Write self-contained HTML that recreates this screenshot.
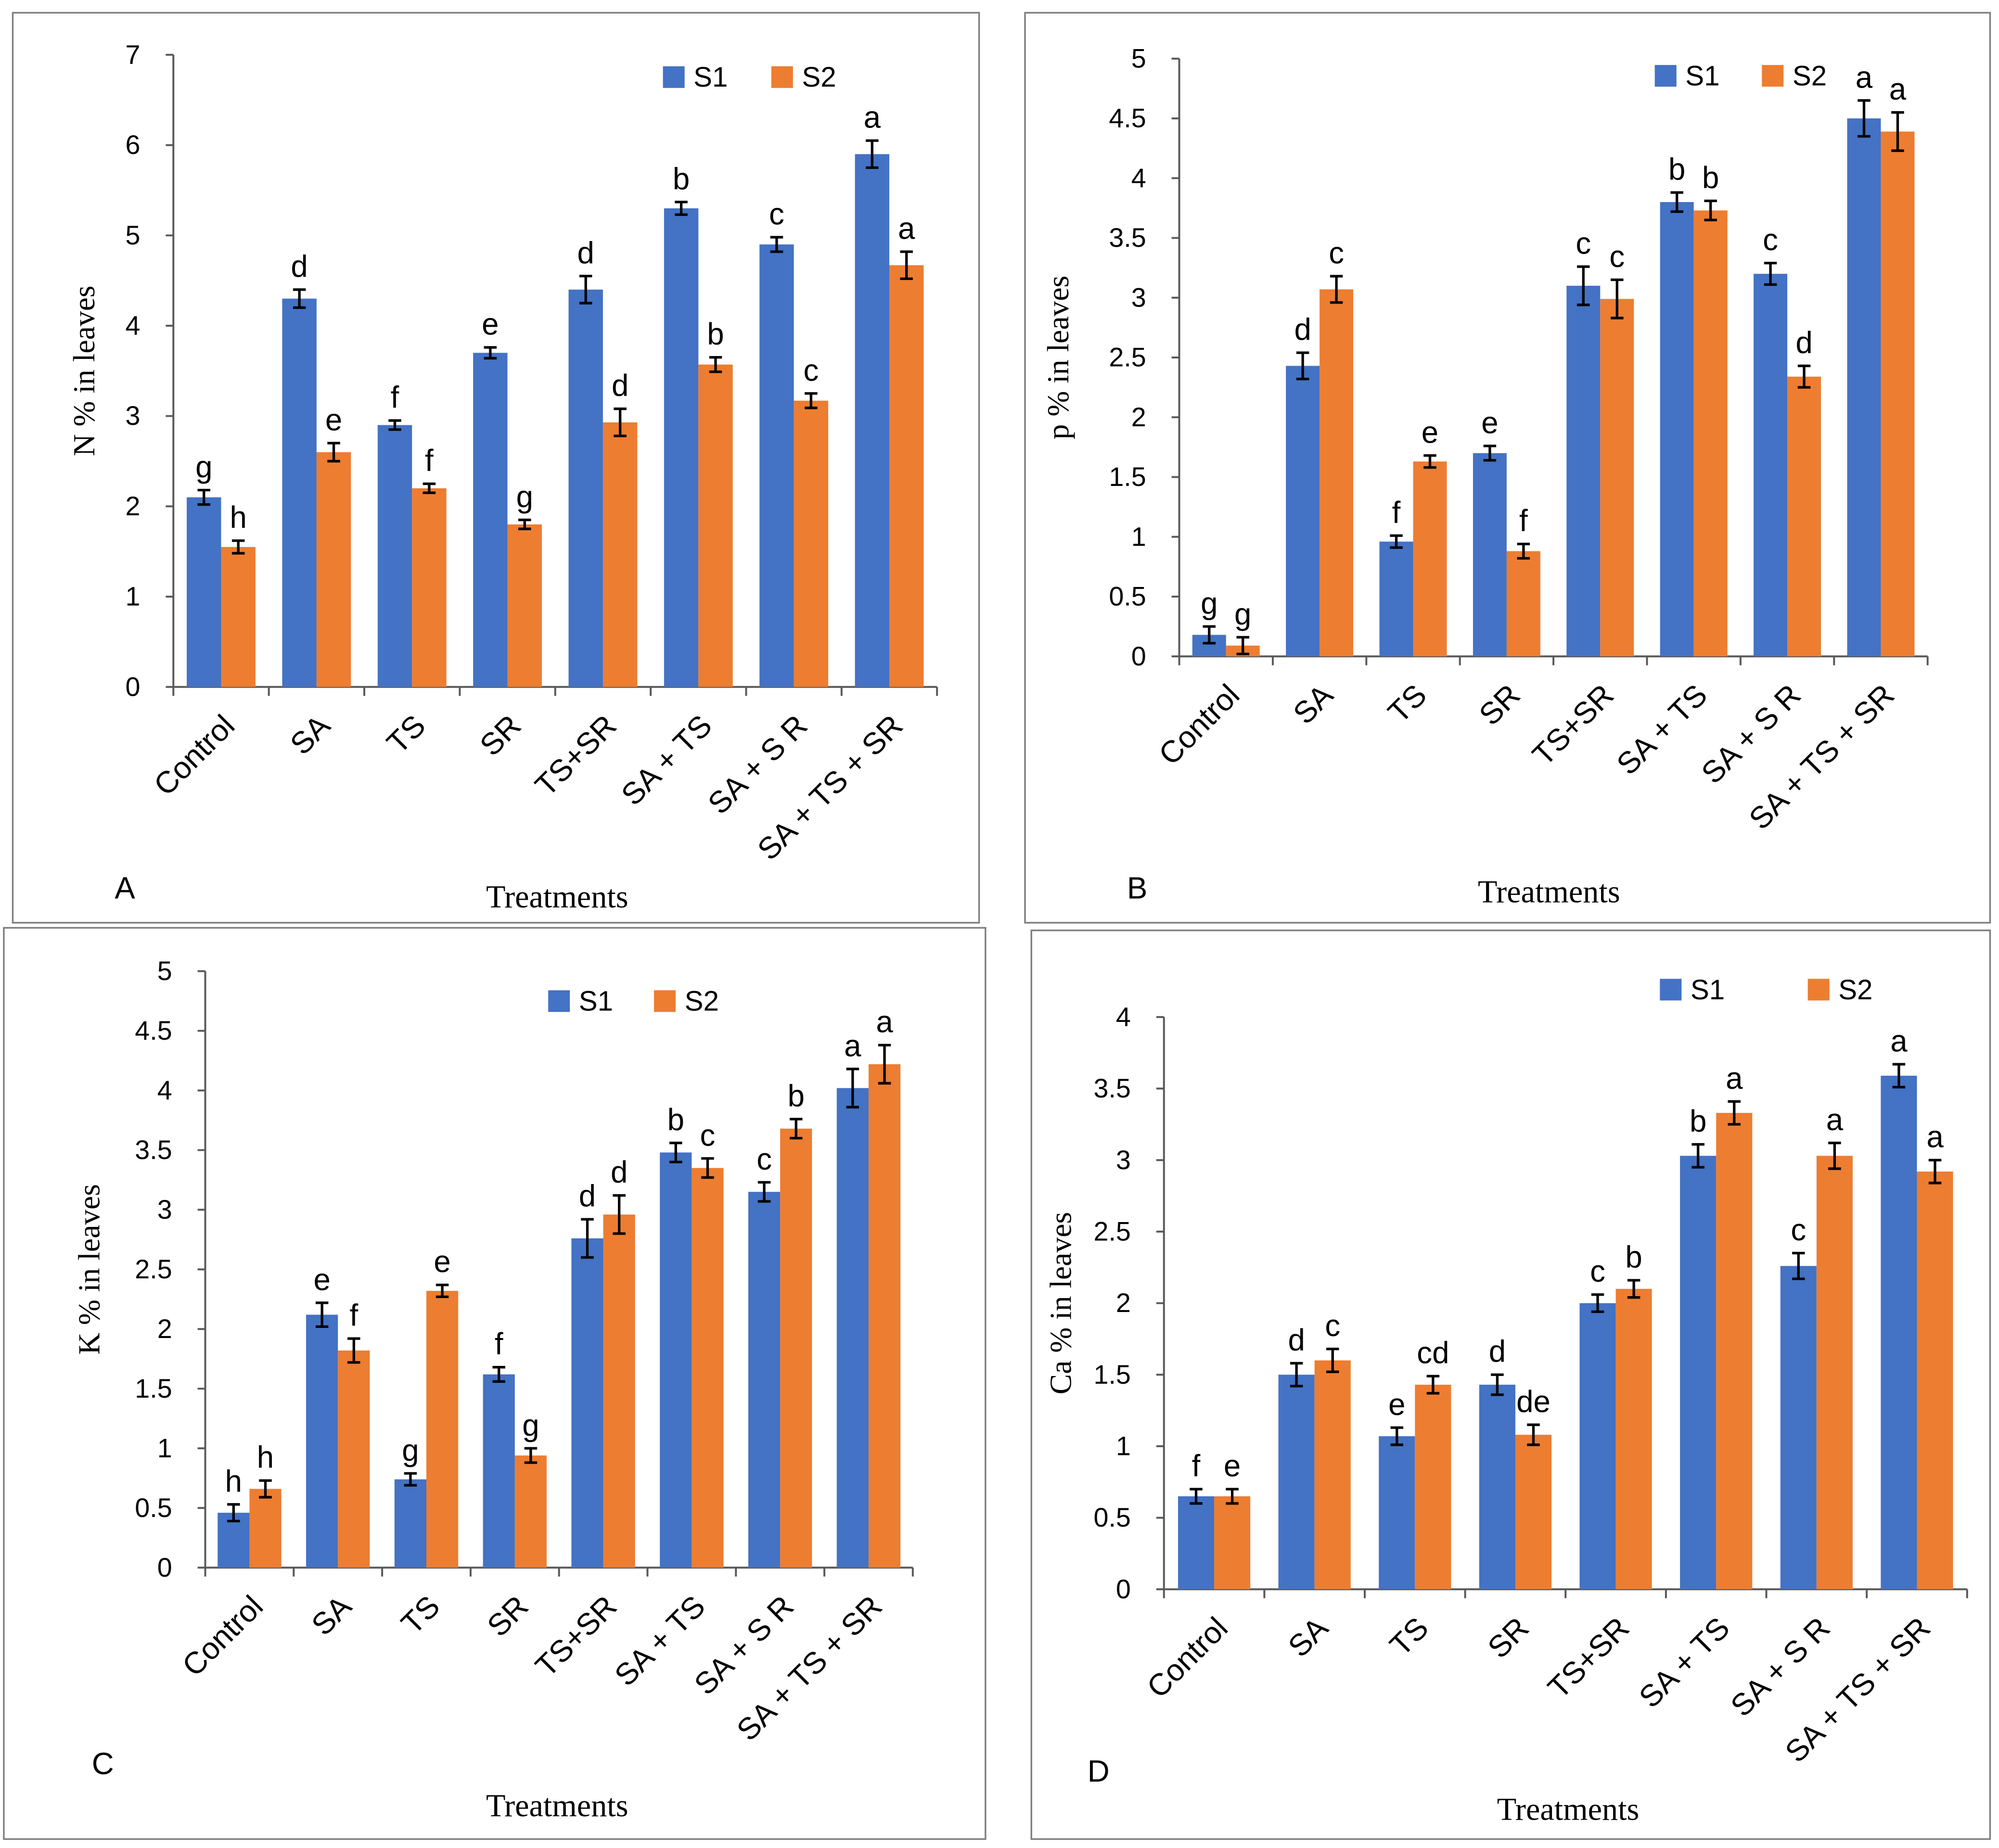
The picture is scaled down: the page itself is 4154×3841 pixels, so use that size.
<!DOCTYPE html>
<html><head><meta charset="utf-8"><style>
html,body{margin:0;padding:0;background:#fff;}
svg{display:block;}
text{font-family:"Liberation Sans",sans-serif;fill:#000;}
.serif{font-family:"Liberation Serif",serif;}
</style></head><body>
<svg id="chart" width="4154" height="3841" viewBox="0 0 1568 1450" preserveAspectRatio="none" xmlns="http://www.w3.org/2000/svg"></svg>
<script>
const categories = ["Control","SA","TS","SR","TS+SR","SA + TS","SA + S R","SA + TS + SR"];
const nS1 = [2.1,4.3,2.9,3.7,4.4,5.3,4.9,5.9];
const nS2 = [1.55,2.6,2.2,1.8,2.93,3.57,3.17,4.67];
const nE1 = [0.08,0.1,0.05,0.06,0.15,0.07,0.08,0.15];
const nE2 = [0.07,0.1,0.05,0.05,0.15,0.08,0.08,0.15];
const nL1 = ["g","d","f","e","d","b","c","a"];
const nL2 = ["h","e","f","g","d","b","c","a"];
const nTicks = ["0","1","2","3","4","5","6","7"];
const pS1 = [0.18,2.43,0.96,1.7,3.1,3.8,3.2,4.5];
const pS2 = [0.09,3.07,1.63,0.88,2.99,3.73,2.34,4.39];
const pE1 = [0.07,0.11,0.05,0.06,0.16,0.08,0.09,0.15];
const pE2 = [0.07,0.11,0.05,0.06,0.16,0.08,0.09,0.16];
const pL1 = ["g","d","f","e","c","b","c","a"];
const pL2 = ["g","c","e","f","c","b","d","a"];
const pTicks = ["0","0.5","1","1.5","2","2.5","3","3.5","4","4.5","5"];
const kS1 = [0.46,2.12,0.74,1.62,2.76,3.48,3.15,4.02];
const kS2 = [0.66,1.82,2.32,0.94,2.96,3.35,3.68,4.22];
const kE1 = [0.07,0.1,0.05,0.06,0.16,0.08,0.08,0.16];
const kE2 = [0.07,0.1,0.05,0.06,0.16,0.08,0.08,0.16];
const kL1 = ["h","e","g","f","d","b","c","a"];
const kL2 = ["h","f","e","g","d","c","b","a"];
const kTicks = ["0","0.5","1","1.5","2","2.5","3","3.5","4","4.5","5"];
const cS1 = [0.65,1.5,1.07,1.43,2.0,3.03,2.26,3.59];
const cS2 = [0.65,1.6,1.43,1.08,2.1,3.33,3.03,2.92];
const cE1 = [0.05,0.08,0.06,0.07,0.06,0.08,0.09,0.08];
const cE2 = [0.05,0.08,0.06,0.07,0.06,0.08,0.09,0.08];
const cL1 = ["f","d","e","d","c","b","c","a"];
const cL2 = ["e","c","cd","de","b","a","a","a"];
const cTicks = ["0","0.5","1","1.5","2","2.5","3","3.5","4"];

const NS="http://www.w3.org/2000/svg";
const svg=document.getElementById('chart');
function mk(tag,attrs,parent,txt){const e=document.createElementNS(NS,tag);for(const k in attrs)e.setAttribute(k,attrs[k]);if(txt!==undefined)e.textContent=txt;(parent||svg).appendChild(e);return e;}

function panel(cfg){
  const g=mk('g',{});
  
  
  const b=mk('rect',{x:cfg.box[0],y:cfg.box[1],width:cfg.box[2]-cfg.box[0],height:cfg.box[3]-cfg.box[1],fill:'none',stroke:'#7f7f7f','stroke-width':1.3},g);
  
  
  const ymax=parseFloat(cfg.ticks[cfg.ticks.length-1]);
  const y=v=>cfg.y0-(v/ymax)*(cfg.y0-cfg.yTop);
  const n=categories.length, cw=(cfg.x1-cfg.x0)/n, bw=cw*0.36;
  const cx=i=>cfg.x0+cw*(i+0.5);
  const ax=mk('line',{x1:cfg.x0,y1:cfg.yTop,x2:cfg.x0,y2:cfg.y0,stroke:'#595959','stroke-width':1.5},g);
  
  const xx=mk('line',{x1:cfg.x0,y1:cfg.y0,x2:cfg.x1,y2:cfg.y0,stroke:'#595959','stroke-width':1.5},g);
  
  cfg.ticks.forEach(t=>{const v=parseFloat(t);
    mk('line',{x1:cfg.x0-6,y1:y(v),x2:cfg.x0,y2:y(v),stroke:'#595959','stroke-width':1.5},g);
    const tl=mk('text',{x:cfg.x0-26,y:y(v)+7,'text-anchor':'end','font-size':21},g,t);
    
  });
  for(let i=0;i<=n;i++) mk('line',{x1:cfg.x0+cw*i,y1:cfg.y0,x2:cfg.x0+cw*i,y2:cfg.y0+7,stroke:'#595959','stroke-width':1.5},g);
  const series=[[cfg.s1,cfg.e1,cfg.l1,'#4472C4',-1],[cfg.s2,cfg.e2,cfg.l2,'#ED7D31',0]];
  categories.forEach((c,i)=>{
    series.forEach((s,si)=>{
      const v=s[0][i],e=s[1][i],x=cx(i)+s[4]*bw;
      const r=mk('rect',{x:x,y:y(v),width:bw,height:cfg.y0-y(v),fill:s[3]},g);
      
      
      const mx=x+bw/2;
      mk('line',{x1:mx,y1:y(v+e),x2:mx,y2:y(v-e),stroke:'#000','stroke-width':2},g);
      mk('line',{x1:mx-5,y1:y(v+e),x2:mx+5,y2:y(v+e),stroke:'#000','stroke-width':2},g);
      mk('line',{x1:mx-5,y1:y(v-e),x2:mx+5,y2:y(v-e),stroke:'#000','stroke-width':2},g);
      const lt=mk('text',{x:mx,y:y(v+e)-10,'text-anchor':'middle','font-size':24},g,s[2][i]);
      
      
    });
    const xl=mk('text',{x:0,y:0,'text-anchor':'end','font-size':24,transform:`translate(${cx(i)+12},${cfg.y0+32}) rotate(-45)`},g,c);
    
    
  });
  const yt=mk('text',{x:0,y:0,'text-anchor':'middle','font-size':24,class:'serif',transform:`translate(${cfg.ytX},${(cfg.y0+cfg.yTop)/2}) rotate(-90)`},g,cfg.ytitle);
  
  const xt=mk('text',{x:cfg.xt[0],y:cfg.xt[1],'text-anchor':'middle','font-size':25,class:'serif'},g,'Treatments');
  
  const pl=mk('text',{x:cfg.lab[0],y:cfg.lab[1],'font-size':24},g,cfg.id);
  
  [['S1','#4472C4',cfg.leg[0]],['S2','#ED7D31',cfg.leg[1]]].forEach(l=>{
    const r=mk('rect',{x:l[2],y:cfg.legY-8,width:17,height:17,fill:l[1]},g);
    
    const t=mk('text',{x:l[2]+24,y:cfg.legY+8,'font-size':22},g,l[0]);
    
  });
}
panel({id:'A',box:[10,10,768,724],x0:136,x1:735,y0:539,yTop:43,ticks:nTicks,s1:nS1,s2:nS2,e1:nE1,e2:nE2,l1:nL1,l2:nL2,ytitle:'N % in leaves',ytX:74,xt:[437,712],lab:[90,705],leg:[520,605],legY:60});
panel({id:'B',box:[804,10,1561,724],x0:925,x1:1512,y0:515,yTop:46,ticks:pTicks,s1:pS1,s2:pS2,e1:pE1,e2:pE2,l1:pL1,l2:pL2,ytitle:'p % in leaves',ytX:838,xt:[1215,708],lab:[884,705],leg:[1298,1382],legY:59});
panel({id:'C',box:[3,728,773,1443],x0:161,x1:716,y0:1230,yTop:762,ticks:kTicks,s1:kS1,s2:kS2,e1:kE1,e2:kE2,l1:kL1,l2:kL2,ytitle:'K % in leaves',ytX:78,xt:[437,1425],lab:[72,1392],leg:[430,513],legY:785});
panel({id:'D',box:[809,730,1561,1443],x0:913,x1:1543,y0:1247,yTop:798,ticks:cTicks,s1:cS1,s2:cS2,e1:cE1,e2:cE2,l1:cL1,l2:cL2,ytitle:'Ca % in leaves',ytX:840,xt:[1230,1428],lab:[853,1398],leg:[1302,1418],legY:776});
</script>
</body></html>
